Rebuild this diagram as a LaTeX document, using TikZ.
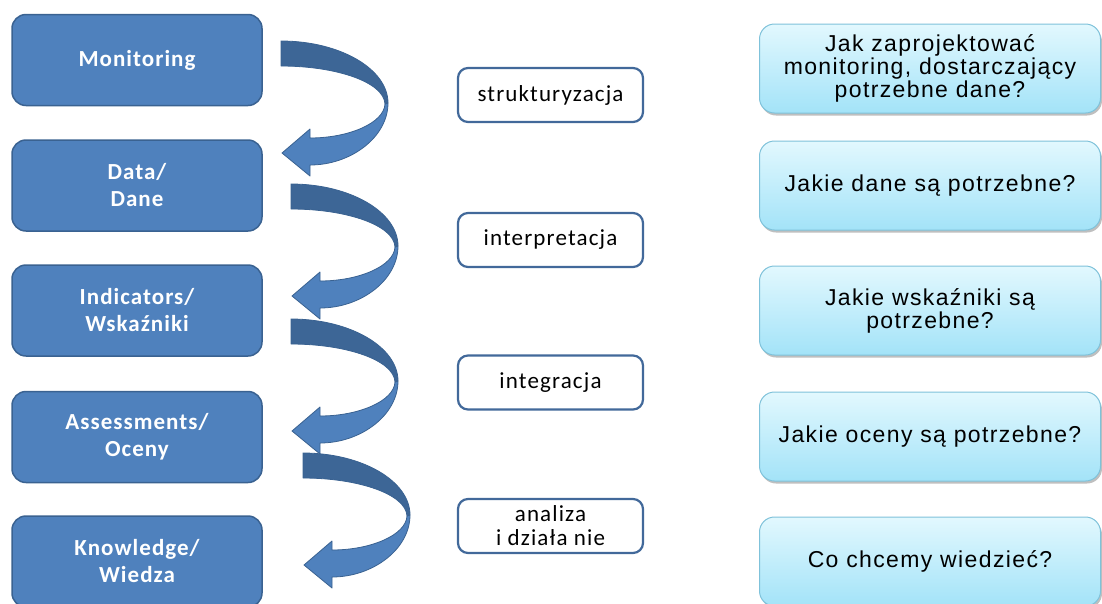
\documentclass[tikz,border=0pt]{standalone}
\usepackage{fontspec}
\setmainfont{Carlito}
\newfontfamily\qfont[LetterSpace=6]{Liberation Sans}
\newfontfamily\bfnt[LetterSpace=4.5]{Carlito}
\newfontfamily\mfnt[LetterSpace=5]{Carlito}
\usetikzlibrary{shadows}
\definecolor{lblue}{HTML}{4F81BD}
\definecolor{lborder}{HTML}{3A6291}
\definecolor{aback}{HTML}{3D6696}
\definecolor{mborder}{HTML}{42699A}
\definecolor{qtop}{HTML}{E2F8FE}
\definecolor{qbot}{HTML}{A3E3F8}
\definecolor{qborder}{HTML}{7FC2DA}
\newcommand\bentarrow[2]{%
\begin{scope}[shift={(#1,#2)}]
\filldraw[arrowline, fill=aback] (0,0) .. controls (59,0) and (107,28) .. (107,62) -- (104,63) .. controls (103,41) and (55,25) .. (0,25) -- cycle;
\filldraw[arrowline, fill=lblue] (107,62) .. controls (107,96) and (70,124) .. (29,124) -- (29,135) -- (1,112) -- (29,88) -- (29,97) .. controls (68,97) and (103,82) .. (104,63) -- cycle;
\end{scope}}
\tikzset{
  arrowline/.style={draw=lborder, line width=0.8pt, line join=round},
  lbox/.style={draw=lborder, line width=1.5pt, fill=lblue, rounded corners=14pt,
    minimum width=250pt, minimum height=91pt, text=white,
    font=\bfnt\bfseries\fontsize{23}{27}\selectfont, align=center, inner sep=0pt},
  mbox/.style={draw=mborder, line width=2.2pt, fill=white, rounded corners=10pt,
    minimum width=185pt, minimum height=54pt,
    font=\mfnt\fontsize{23}{24}\selectfont, align=center, inner sep=0pt},
  qbox/.style={draw=qborder, line width=1pt, top color=qtop, bottom color=qbot,
    rounded corners=15pt, minimum width=341pt, minimum height=89pt,
    font=\qfont\fontsize{23}{23}\selectfont, align=center, inner sep=0pt,
    drop shadow={shadow xshift=1.5pt, shadow yshift=-2.5pt, fill=black, opacity=0.25}}
}
\begin{document}
\begin{tikzpicture}[x=1pt,y=-1pt]
\useasboundingbox (0,0) rectangle (1102,603);
\clip (0,0) rectangle (1102,603);
% left column
\node[lbox] (mon) at (137,60) {Monitoring};
\node[lbox] (dat) at (137,185.5) {Data/\\Dane};
\node[lbox] (ind) at (137,310.5) {Indicators/\\Wskaźniki};
\node[lbox] (ass) at (137,437) {Assessments/\\Oceny};
\node[lbox] (kno) at (137,561.5) {Knowledge/\\Wiedza};
% curved arrows
\bentarrow{281}{41}
\bentarrow{291}{184}
\bentarrow{291}{319}
\bentarrow{303}{453}
% middle column
\node[mbox] (str) at (550.5,95) {strukturyzacja};
\node[mbox] (int) at (550.5,240) {interpretacja};
\node[mbox] (itg) at (550.5,382.5) {integracja};
\node[mbox] (ana) at (550.5,526) {analiza\\i działa nie};
% right column
\node[qbox] (q1) at (930,68.5) {Jak zaprojektować\\monitoring, dostarczający\\potrzebne dane?};
\node[qbox] (q2) at (930,185.5) {Jakie dane są potrzebne?};
\node[qbox] (q3) at (930,310.5) {Jakie wskaźniki są\\potrzebne?};
\node[qbox] (q4) at (930,436.5) {Jakie oceny są potrzebne?};
\node[qbox] (q5) at (930,561.5) {Co chcemy wiedzieć?};
\end{tikzpicture}
\end{document}
